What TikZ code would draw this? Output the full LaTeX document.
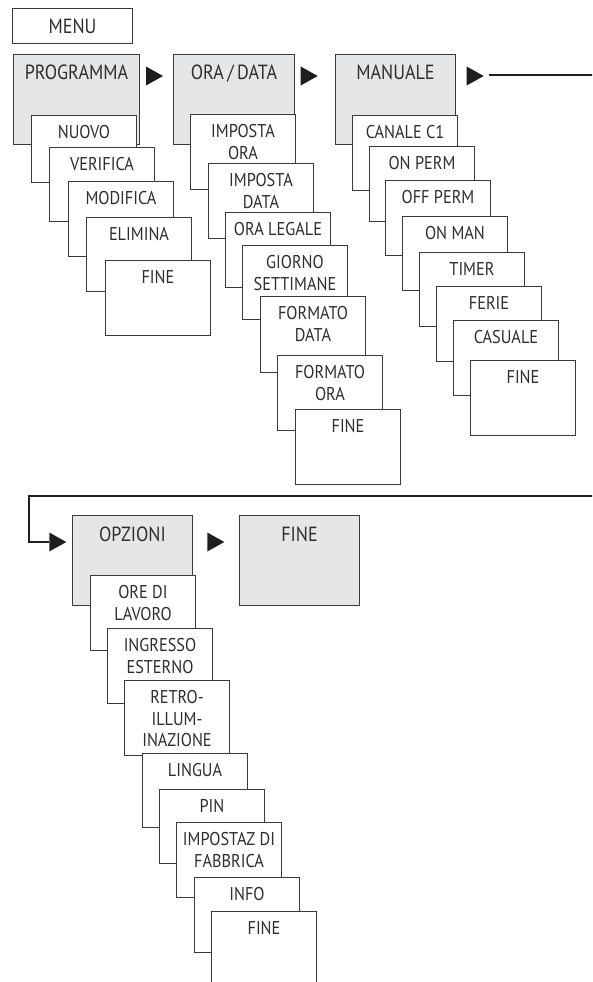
\documentclass[tikz,border=0pt]{standalone}
\usepackage{fontspec}
\setmainfont[FakeStretch=0.88]{PT Sans}
\definecolor{boxgray}{HTML}{E5E6E7}
\definecolor{linecol}{HTML}{3A3A3A}
\definecolor{txtcol}{HTML}{2E2E2E}
\definecolor{arrcol}{HTML}{1E1E1E}
\tikzset{
  mainbox/.style={draw=linecol, line width=1pt, fill=boxgray, anchor=north west, inner sep=0pt, outer sep=0pt},
  menubox/.style={draw=linecol, line width=1pt, fill=white, anchor=north west, inner sep=0pt, outer sep=0pt},
  subbox/.style={draw=linecol, line width=1pt, fill=white, anchor=north west, inner sep=0pt, outer sep=0pt, minimum width=105pt},
  toplbl/.style={text=txtcol, font=\fontsize{20.5}{24}\selectfont, anchor=base, inner sep=0pt},
  sublbl/.style={text=txtcol, font=\fontsize{18.5}{21.5}\selectfont, anchor=base, inner sep=0pt},
  conn/.style={draw=arrcol, line width=2pt},
  tricol/.style={fill=arrcol},
}
% main (gray) box: name, x, y, width, text
\newcommand\mymain[5]{%
  \node[mainbox, minimum width=#4pt, minimum height=90pt] (#1) at (#2,#3) {};
  \node[toplbl] (#1-t) at ([yshift=-25.5pt]#1.north) {#5};
}
% sub box: name, x, y, height, text (lines separated by \\)
\newcommand\mysub[5]{%
  \node[subbox, minimum height=#4pt] (#1) at (#2,#3) {};
  \node[sublbl] (#1-t) at ([yshift=-23.3pt]#1.north)
    {\setlength{\tabcolsep}{0pt}\begin{tabular}[t]{c}#5\end{tabular}};
}
% triangle marker: name, x of base, y of centre
\newcommand\mytri[3]{%
  \coordinate (#1) at (#2,#3);
  \fill[tricol] (#1) ++(0,9.5) -- ++(17,-9.5) -- ++(-17,-9.5) -- cycle;
}
\begin{document}
\begin{tikzpicture}[x=1pt,y=-1pt]
\useasboundingbox (0,0) rectangle (592,982);
\clip (0,0) rectangle (592,982);

% MENU
\node[menubox, minimum width=120pt, minimum height=35pt] (menu) at (12.5,8.5) {};
\node[toplbl] (menu-t) at ([yshift=-24.8pt]menu.north) {MENU};

% ---- PROGRAMMA column
\mymain{prog}{13.5}{54.5}{126}{PROGRAMMA}
\mysub{p1}{31.5}{115.5}{67}{NUOVO}
\mysub{p2}{49.5}{147.5}{74}{VERIFICA}
\mysub{p3}{68.5}{181.5}{75}{MODIFICA}
\mysub{p4}{86.5}{217.5}{74}{ELIMINA}
\mysub{p5}{105.5}{260.5}{75}{FINE}

% ---- ORA/DATA column
\mymain{ora}{173.5}{54.5}{121}{ORA\,/\,DATA}
\mysub{o1}{190.5}{114.5}{75}{IMPOSTA\\ORA}
\mysub{o2}{208.5}{163.5}{75}{IMPOSTA\\DATA}
\mysub{o3}{225.5}{212.5}{75}{ORA LEGALE}
\mysub{o4}{242.5}{245.5}{74}{GIORNO\\SETTIMANE}
\mysub{o5}{260.5}{296.5}{76}{FORMATO\\DATA}
\mysub{o6}{277.5}{355.5}{75}{FORMATO\\ORA}
\mysub{o7}{295.5}{409.5}{75}{FINE}

% ---- MANUALE column
\mymain{man}{335.5}{54.5}{120}{MANUALE}
\mysub{m1}{352.5}{115.5}{75}{CANALE C1}
\mysub{m2}{369.5}{146.5}{75}{ON PERM}
\mysub{m3}{385.5}{180.5}{75}{OFF PERM}
\mysub{m4}{402.5}{216.5}{74}{ON MAN}
\mysub{m5}{419.5}{252.5}{74}{TIMER}
\mysub{m6}{436.5}{286.5}{75}{FERIE}
\mysub{m7}{453.5}{320.5}{75}{CASUALE}
\mysub{m8}{470.5}{360.5}{75}{FINE}

% ---- OPZIONI column
\mymain{opz}{72.5}{515.5}{120}{OPZIONI}
\mysub{q1}{90.5}{575.5}{75}{ORE DI\\LAVORO}
\mysub{q2}{107.5}{628.5}{75}{INGRESSO\\ESTERNO}
\mysub{q3}{124.5}{680.5}{75}{RETRO-\\ILLUM-\\INAZIONE}
\mysub{q4}{142.5}{753.5}{74}{LINGUA}
\mysub{q5}{159.5}{789.5}{74}{PIN}
\mysub{q6}{176.5}{822.5}{75}{IMPOSTAZ DI\\FABBRICA}
\mysub{q7}{194.5}{877.5}{75}{INFO}
\mysub{q8}{211.5}{911.5}{75}{FINE}

% ---- final FINE
\mymain{fin}{239.5}{515.5}{120}{FINE}

% ---- triangles
\mytri{t1}{146}{76}
\mytri{t2}{300.7}{76}
\mytri{t3}{466.7}{76}
\mytri{t5}{207.3}{542}
\mytri{tin}{49.3}{542}

% ---- long connector
\coordinate (lstart) at (489,75);
\coordinate (exitR) at (600,75);
\draw[conn] (lstart) -- (exitR);
\coordinate (reentry) at (600,496);
\coordinate (corner) at (29,496);
\draw[conn] (reentry) -- (corner) |- (tin);
\end{tikzpicture}
\end{document}
